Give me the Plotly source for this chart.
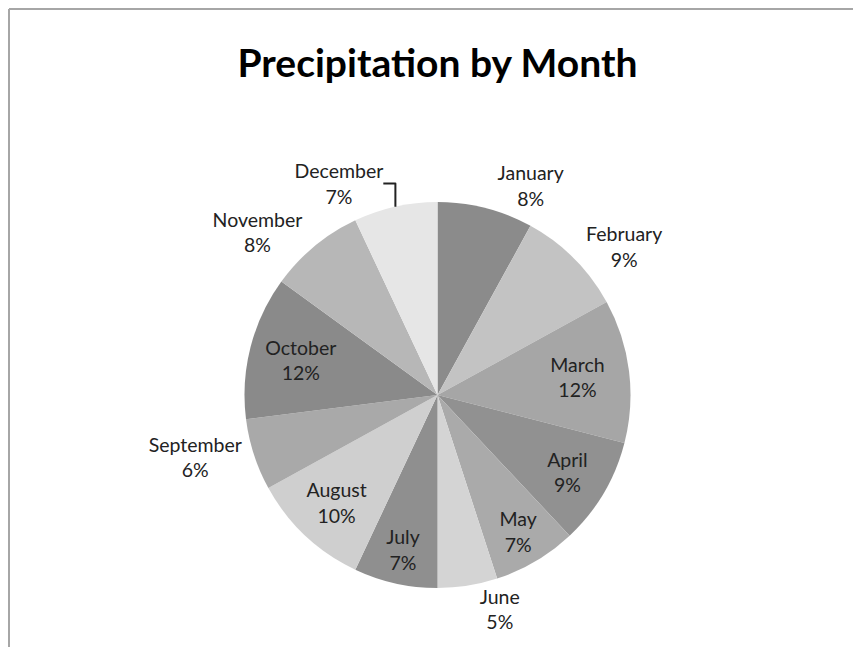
import plotly.graph_objects as go

months = ["January", "February", "March", "April", "May", "June",
          "July", "August", "September", "October", "November", "December"]
share = [8, 9, 12, 9, 7, 5, 7, 10, 6, 12, 8, 7]
label_pos = ["outside", "outside", "inside", "inside", "inside", "outside",
             "inside", "inside", "outside", "inside", "outside", "outside"]
slice_colors = ["#8b8b8b", "#c3c3c3", "#a6a6a6", "#919191", "#aaaaaa", "#d4d4d4",
                "#8f8f8f", "#cfcfcf", "#a9a9a9", "#8a8a8a", "#b7b7b7", "#e6e6e6"]

# page body has an 8px margin; work in figure pixels
OFF = 8
W, H = 861 - OFF, 647 - OFF
cx, cy, r = 437.5 - OFF, 395 - OFF, 193

fig = go.Figure(go.Pie(
    labels=months,
    values=share,
    sort=False,
    direction="clockwise",
    rotation=0,
    texttemplate="%{label}<br>%{percent:.0%}",
    textposition=label_pos,
    insidetextorientation="horizontal",
    marker=dict(colors=slice_colors, line=dict(width=0)),
    textfont=dict(family="Lato", size=19.5, color="#222222"),
    outsidetextfont=dict(family="Lato", size=19.5, color="#222222"),
    insidetextfont=dict(family="Lato", size=19.5, color="#222222"),
    showlegend=False,
    domain=dict(x=[(cx - r) / W, (cx + r) / W], y=[(H - cy - r) / H, (H - cy + r) / H]),
))

fig.update_layout(
    width=W, height=H,
    margin=dict(l=0, r=0, t=0, b=0),
    paper_bgcolor="white",
    title=dict(text="<b>Precipitation by Month</b>", x=cx / W, xanchor="center",
               y=1 - (63 - OFF) / H, yanchor="middle",
               font=dict(family="Lato", size=39, color="#000000")),
    uniformtext=dict(minsize=19, mode="show"),
    shapes=[
        dict(type="line", xref="paper", yref="paper", x0=1 / W, x1=1,
             y0=1 - 1 / H, y1=1 - 1 / H,
             line=dict(color="#a6a6a6", width=2)),
        dict(type="line", xref="paper", yref="paper", x0=1 / W, x1=1 / W,
             y0=0, y1=1 - 1 / H,
             line=dict(color="#a6a6a6", width=2)),
    ],
)

fig.write_html("out.html")
